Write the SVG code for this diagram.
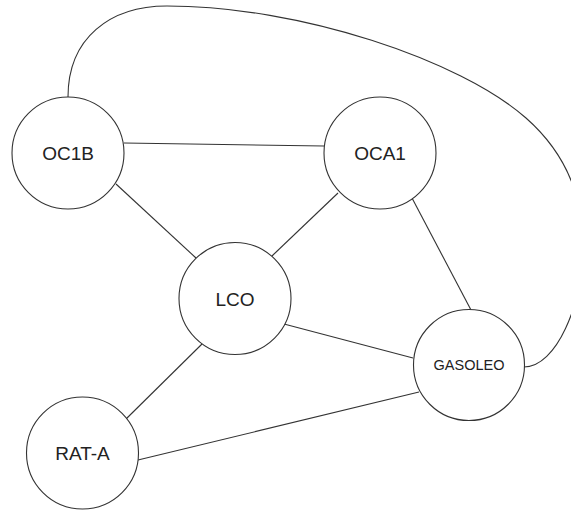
<svg xmlns="http://www.w3.org/2000/svg" width="571" height="510" viewBox="0 0 571 510">
<style>
.n circle{fill:#fff;stroke:#333;stroke-width:1.1}
.n text{font-family:"Liberation Sans",Arial,sans-serif;font-size:19px;fill:#222;text-anchor:middle}
.n text.s{font-size:14.5px}
#edges path,#edges line{stroke:#333;stroke-width:1.1;fill:none}
</style>
<rect width="571" height="510" fill="#fff"/>
<g id="edges">
<line x1="124" y1="143" x2="324" y2="146"/>
<line x1="116" y1="184" x2="196" y2="258"/>
<line x1="338" y1="193" x2="272" y2="256"/>
<line x1="412" y1="198" x2="471" y2="310"/>
<line x1="284" y1="324" x2="413" y2="358"/>
<line x1="202" y1="344" x2="125" y2="420"/>
<line x1="138" y1="460" x2="419" y2="392"/>
<path d="M68,97 C68,38 110,6 167,6 C300,6 460,60 526,118 C560,148 583,190 583,245 C583,305 556,367 524,367"/>
</g>
<g id="OC1B" class="n"><circle cx="68" cy="153" r="56"/><text x="68" y="160">OC1B</text></g>
<g id="OCA1" class="n"><circle cx="380" cy="153" r="56"/><text x="380" y="160">OCA1</text></g>
<g id="LCO" class="n"><circle cx="235" cy="298.5" r="56"/><text x="235" y="305.5">LCO</text></g>
<g id="GASOLEO" class="n"><circle cx="469" cy="365" r="55.5"/><text class="s" x="469" y="370">GASOLEO</text></g>
<g id="RAT-A" class="n"><circle cx="82.5" cy="453" r="56"/><text x="82.5" y="460">RAT-A</text></g>
</svg>
